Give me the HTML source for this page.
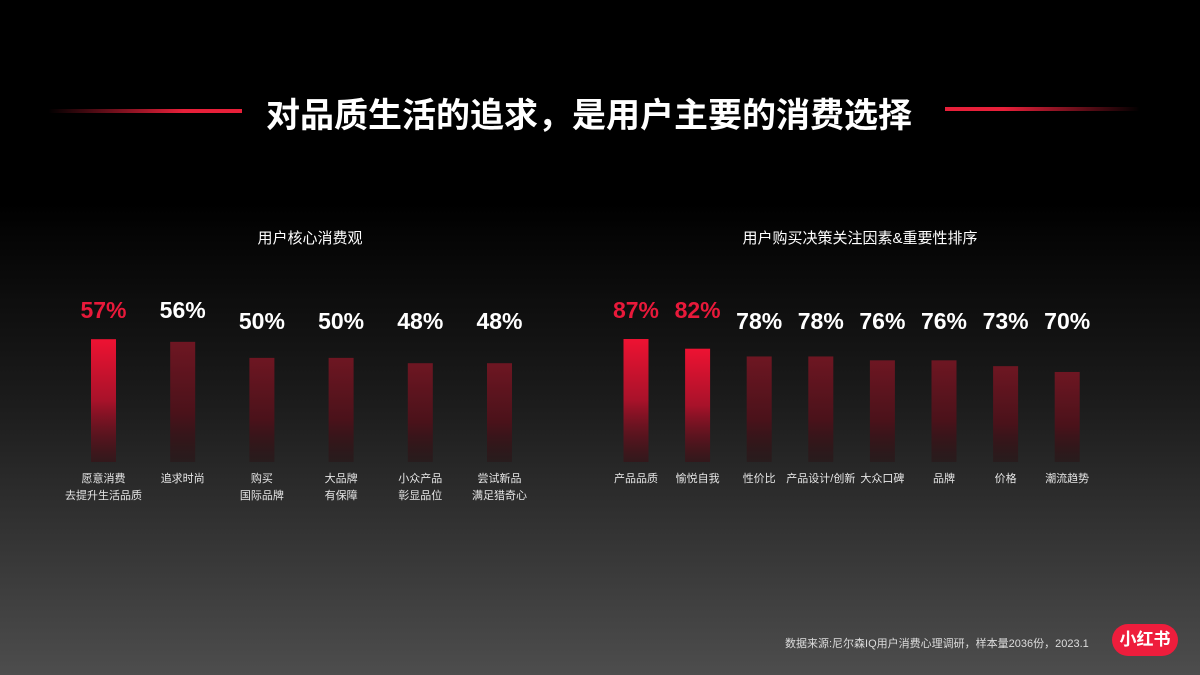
<!DOCTYPE html>
<html><head><meta charset="utf-8">
<style>
html,body{margin:0;padding:0}
body{width:1200px;height:675px;overflow:hidden;background:linear-gradient(180deg,#000 0%,#000 30%,#1c1c1c 60%,#4d4d4d 100%);font-family:"Liberation Sans","Noto Sans CJK SC",sans-serif;position:relative}
.t{position:absolute;color:#fff}
</style></head><body>
<div style="position:absolute;left:48px;top:109px;width:194px;height:4px;background:linear-gradient(90deg,rgba(230,20,50,0),#e8203a 70%,#e8203a)"></div>
<div style="position:absolute;left:945px;top:107px;width:195px;height:4px;background:linear-gradient(90deg,#e8203a,#e8203a 30%,rgba(230,20,50,0))"></div>
<div class="t" style="left:266px;top:96px;font-size:34px;font-weight:bold;letter-spacing:0px;white-space:nowrap;line-height:40px">对品质生活的追求，是用户主要的消费选择</div>
<div class="t" style="left:200px;top:227px;width:220px;text-align:center;font-size:15px">用户核心消费观</div>
<div class="t" style="left:690px;top:227px;width:340px;text-align:center;font-size:15px">用户购买决策关注因素&amp;重要性排序</div>
<svg id="chart" width="1200" height="675" style="position:absolute;left:0;top:0">
<defs>
<linearGradient id="gHi" x1="0" y1="0" x2="0" y2="1"><stop offset="0" stop-color="#ee1232"/><stop offset="0.5" stop-color="#a8122a"/><stop offset="1" stop-color="#3a0f14" stop-opacity="0.6"/></linearGradient>
<linearGradient id="gLo" x1="0" y1="0" x2="0" y2="1"><stop offset="0" stop-color="#6e1622"/><stop offset="0.6" stop-color="#4a121a"/><stop offset="1" stop-color="#2a1214" stop-opacity="0.5"/></linearGradient>
</defs>
</svg>
<div class="t" style="left:785px;top:635px;font-size:11px;color:#ddd;white-space:nowrap">数据来源:尼尔森IQ用户消费心理调研，样本量2036份，2023.1</div>
<div class="t" style="left:1112px;top:624px;width:66px;height:32px;border-radius:16px;background:#ee1d3c;font-size:17px;font-weight:bold;text-align:center;line-height:32px">小红书</div>
<script>
const leftCats=[["愿意消费","去提升生活品质"],["追求时尚"],["购买","国际品牌"],["大品牌","有保障"],["小众产品","彰显品位"],["尝试新品","满足猎奇心"]];
const leftVals=[57,56,50,50,48,48];
const leftHi=[true,false,false,false,false,false];
const rightCats=[["产品品质"],["愉悦自我"],["性价比"],["产品设计/创新"],["大众口碑"],["品牌"],["价格"],["潮流趋势"]];
const rightVals=[87,82,78,78,76,76,73,70];
const rightHi=[true,true,false,false,false,false,false,false];
const svg=document.getElementById('chart');
const NS='http://www.w3.org/2000/svg';
const bottom=462;
function draw(cats,vals,hi,x0,step,base,k,prefix){
  cats.forEach((c,i)=>{
    const h=(vals[i]-base)*k, top=bottom-h, cx=x0+i*step;
    const r=document.createElementNS(NS,'rect');
    r.setAttribute('x',cx-12.5);r.setAttribute('y',top);r.setAttribute('width',25);r.setAttribute('height',h);
    r.setAttribute('fill',hi[i]?'url(#gHi)':'url(#gLo)');
    
    
    svg.appendChild(r);
    const t=document.createElementNS(NS,'text');
    const ly=top<353?318:329;
    t.setAttribute('x',cx);t.setAttribute('y',ly);t.setAttribute('text-anchor','middle');
    t.setAttribute('font-size','23');t.setAttribute('font-weight','bold');
    t.setAttribute('font-family','Liberation Sans, sans-serif');
    t.setAttribute('fill',hi[i]?'#e8193a':'#fff');
    t.textContent=vals[i]+'%';
    
    
    svg.appendChild(t);
    c.forEach((line,j)=>{
      const l=document.createElementNS(NS,'text');
      l.setAttribute('x',cx);l.setAttribute('y',482+j*17);l.setAttribute('text-anchor','middle');
      l.setAttribute('font-size','11');l.setAttribute('fill','#e6e6e6');
      l.setAttribute('font-family','Liberation Sans, Noto Sans CJK SC, sans-serif');
      l.textContent=line;
      
      
      svg.appendChild(l);
    });
  });
}
draw(leftCats,leftVals,leftHi,103.5,79.2,11,2.67,'left');
draw(rightCats,rightVals,rightHi,636,61.6,23.6,1.94,'right');
</script>
</body></html>
